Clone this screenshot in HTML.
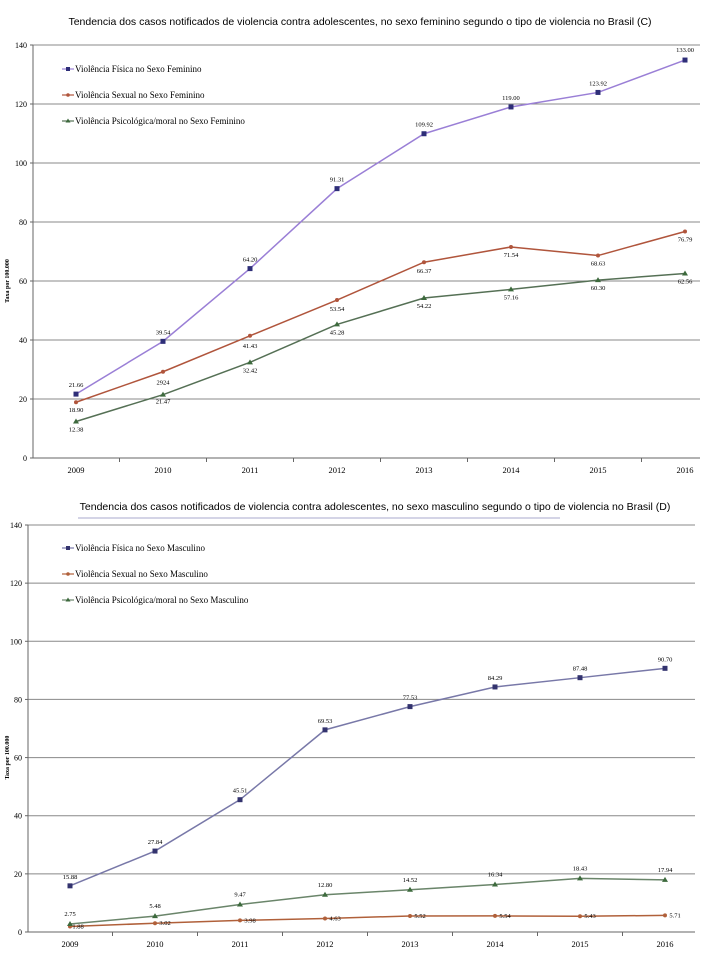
<!DOCTYPE html>
<html><head><meta charset="utf-8"><style>
html,body{margin:0;padding:0;background:#fff;}
svg{display:block;font-family:"Liberation Serif",serif;}
.t{font-family:"Liberation Sans",sans-serif;font-size:10.5px;}
</style></head><body>
<svg id="s" width="720" height="960" viewBox="0 0 720 960"></svg>
<script>
const years=["2009","2010","2011","2012","2013","2014","2015","2016"];
const yTicks=[0,20,40,60,80,100,120,140];
const cPhys=[21.66,39.54,64.20,91.31,109.92,119.00,123.92,134.9];
const cPhysLbl=["21.66","39.54","64.20","91.31","109.92","119.00","123.92","133.00"];
const cSex=[18.90,29.24,41.43,53.54,66.37,71.54,68.63,76.79];
const cSexLbl=["18.90","2924","41.43","53.54","66.37","71.54","68.63","76.79"];
const cPsy=[12.38,21.47,32.42,45.28,54.22,57.16,60.30,62.56];
const cPsyLbl=["12.38","21.47","32.42","45.28","54.22","57.16","60.30","62.56"];
const dPhys=[15.88,27.84,45.51,69.53,77.53,84.29,87.48,90.70];
const dPhysLbl=["15.88","27.84","45.51","69.53","77.53","84.29","87.48","90.70"];
const dSex=[1.88,3.02,3.98,4.63,5.52,5.54,5.43,5.71];
const dSexLbl=["1.88","3.02","3.98","4.63","5.52","5.54","5.43","5.71"];
const dPsy=[2.75,5.48,9.47,12.80,14.52,16.34,18.43,17.94];
const dPsyLbl=["2.75","5.48","9.47","12.80","14.52","16.34","18.43","17.94"];

const NS="http://www.w3.org/2000/svg";
const svg=document.getElementById('s');
function mk(tag,attrs,parent,text){const e=document.createElementNS(NS,tag);for(const k in attrs)e.setAttribute(k,attrs[k]);if(text!==undefined)e.textContent=text;(parent||svg).appendChild(e);return e;}

function chart(o){
  const g=mk('g',{});
  
  
  const ys=v=>o.y0-(v/140)*(o.y0-o.y140);
  const xs=i=>o.x0+i*o.step;
  const tt=mk('text',{x:o.tx,y:o.ty,'text-anchor':'middle',class:'t',fill:'#000'},g,o.title);
  
  
  if(o.underline){mk('line',{x1:78,y1:518,x2:560,y2:518,stroke:'#aac',"stroke-width":1},g);}
  yTicks.forEach(t=>{
    const y=ys(t);
    if(t>0){const gl=mk('line',{x1:o.left,x2:o.right,y1:y,y2:y,stroke:'#888','stroke-width':1},g);
      }
    const tl=mk('text',{x:o.left-6,y:y+3,'text-anchor':'end','font-size':8,fill:'#000'},g,String(t));
    
    mk('line',{x1:o.left-3,x2:o.left,y1:y,y2:y,stroke:'#666'},g);
  });
  mk('line',{x1:o.left,x2:o.left,y1:o.y140,y2:o.y0,stroke:'#666'},g);
  mk('line',{x1:o.left,x2:o.right,y1:o.y0,y2:o.y0,stroke:'#666'},g);
  years.forEach((yr,i)=>{
    const l=mk('text',{x:xs(i),y:o.y0+15,'text-anchor':'middle','font-size':8.5,fill:'#000'},g,yr);
    
    const tx=xs(i)+o.step/2;
    if(tx<o.right) mk('line',{x1:tx,x2:tx,y1:o.y0,y2:o.y0+4,stroke:'#666'},g);
  });
  const yl=mk('text',{transform:`translate(9,${ys(60)}) rotate(-90)`,'text-anchor':'middle','font-size':6,'font-weight':'bold',fill:'#000'},g,'Taxa por 100.000');
  
  o.series.forEach((s,si)=>{
    const pts=s.vals.map((v,i)=>xs(i)+','+ys(v)).join(' ');
    const pl=mk('polyline',{points:pts,fill:'none',stroke:s.line,'stroke-width':1.5},g);
    
    s.vals.forEach((v,i)=>{
      const x=xs(i),y=ys(v);let m;
      if(s.mark==='sq')m=mk('rect',{x:x-2.5,y:y-2.5,width:5,height:5,fill:s.mc},g);
      else if(s.mark==='tri')m=mk('path',{d:`M${x},${y-3}L${x+3},${y+2}L${x-3},${y+2}Z`,fill:s.mc},g);
      else m=mk('circle',{cx:x,cy:y,r:2,fill:s.mc},g);
      
      const dy=s.lblOff[i]!==undefined?s.lblOff[i]:-7;
      const dx=s.lblDx?s.lblDx[i]||0:0;
      const lb=mk('text',{x:x+dx,y:y+dy,'text-anchor':'middle','font-size':6.5,fill:'#000'},g,s.lbls[i]);
      
    });
    const ly=o.legY+si*26;
    const le=mk('g',{},g);
    
    mk('line',{x1:62,x2:74,y1:ly,y2:ly,stroke:s.line,'stroke-width':1.2},le);
    if(s.mark==='sq')mk('rect',{x:66,y:ly-2,width:4,height:4,fill:s.mc},le);
    else if(s.mark==='tri')mk('path',{d:`M68,${ly-2.5}L70.5,${ly+1.5}L65.5,${ly+1.5}Z`,fill:s.mc},le);
    else mk('circle',{cx:68,cy:ly,r:1.8,fill:s.mc},le);
    mk('text',{x:75,y:ly+3,'font-size':9,fill:'#000'},le,s.legend);
  });
}

chart({name:'chart-female',title:'Tendencia dos casos notificados de violencia contra adolescentes, no sexo feminino segundo o tipo de violencia no Brasil (C)',
  tx:360,ty:25,left:33,right:700,y0:458,y140:45,x0:76,step:87,legY:69,
  series:[
   {key:'physical-female',vals:cPhys,lbls:cPhysLbl,line:'#9a7fd6',mc:'#2e2e78',mark:'sq',legend:'Violência Física no Sexo Feminino',lblOff:[-7,-7,-7,-7,-7,-7,-7,-8]},
   {key:'sexual-female',vals:cSex,lbls:cSexLbl,line:'#b0553c',mc:'#b0553c',mark:'dot',legend:'Violência Sexual no Sexo Feminino',lblOff:[10,13,12,11,11,10,10,10]},
   {key:'psych-female',vals:cPsy,lbls:cPsyLbl,line:'#557055',mc:'#3d6a3d',mark:'tri',legend:'Violência Psicológica/moral no Sexo Feminino',lblOff:[10,9,10,10,10,10,10,10]}
  ]});
chart({name:'chart-male',title:'Tendencia dos casos notificados de violencia contra adolescentes, no sexo masculino segundo o tipo de violencia no Brasil (D)',
  tx:375,ty:510,underline:true,left:28,right:695,y0:932,y140:525,x0:70,step:85,legY:548,
  series:[
   {key:'physical-male',vals:dPhys,lbls:dPhysLbl,line:'#7878a8',mc:'#33336e',mark:'sq',legend:'Violência Física no Sexo Masculino',lblOff:[-7,-7,-7,-7,-7,-7,-7,-7]},
   {key:'sexual-male',vals:dSex,lbls:dSexLbl,line:'#b0603a',mc:'#b0603a',mark:'dot',legend:'Violência Sexual no Sexo Masculino',lblOff:[2,2,2,2,2,2,2,2],lblDx:[8,10,10,10,10,10,10,10]},
   {key:'psych-male',vals:dPsy,lbls:dPsyLbl,line:'#6a856a',mc:'#3d6a3d',mark:'tri',legend:'Violência Psicológica/moral no Sexo Masculino',lblOff:[-8,-8,-8,-8,-8,-8,-8,-8]}
  ]});
</script>
</body></html>
